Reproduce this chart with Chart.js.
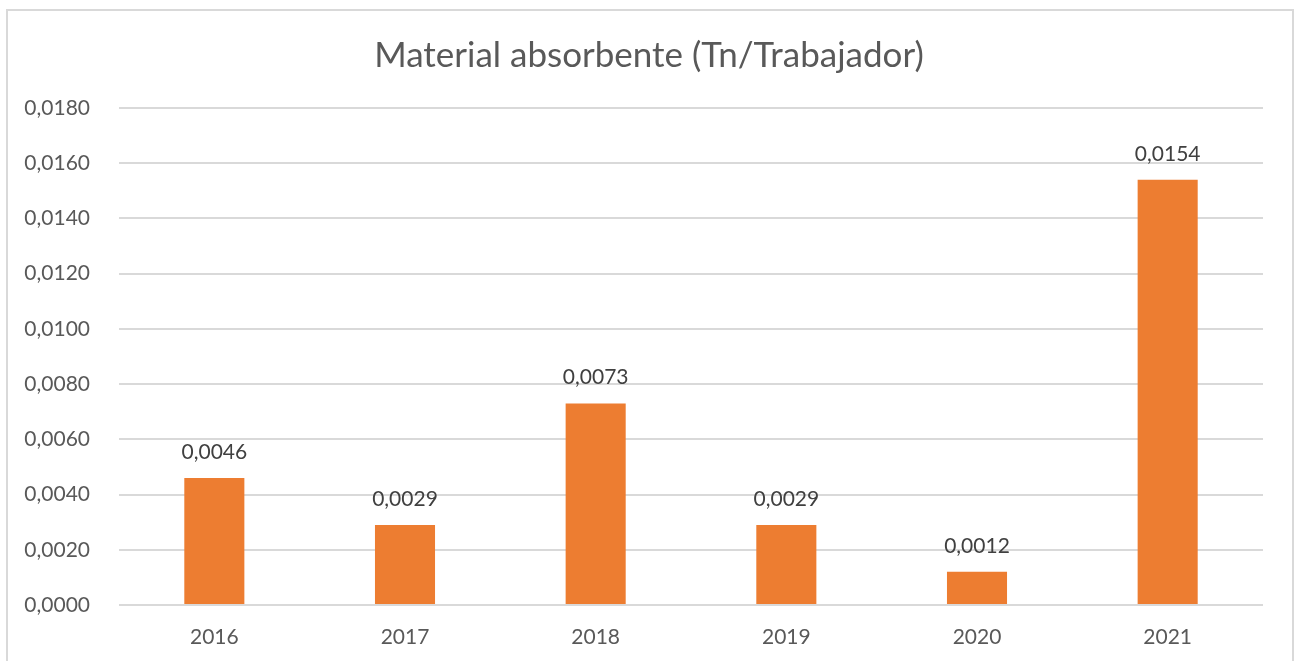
<!DOCTYPE html>
<html>
<head>
<meta charset="utf-8">
<script src="https://cdn.jsdelivr.net/npm/chart.js@4"></script>
<style>
  html, body { margin: 0; padding: 0; background: #fff; overflow: hidden; }
  #wrap { position: relative; width: 1298px; height: 661px; }
  #marco {
    position: absolute; left: 6px; top: 9px; width: 1284px; height: 700px;
    border: 2px solid #d9d9d9;
  }
  canvas { position: absolute; left: 0; top: 0; }
</style>
</head>
<body>
<div id="wrap">
  <div id="marco"></div>
  <canvas id="grafico" width="1298" height="661"></canvas>
</div>
<script>
const anios = ['2016', '2017', '2018', '2019', '2020', '2021'];
const valores = [0.0046, 0.0029, 0.0073, 0.0029, 0.0012, 0.0154];
const ejeMax = 0.018;
const ejePaso = 0.002;

const fuente = 'Lato, "Open Sans", sans-serif';
const fmt = v => v.toFixed(4).replace('.', ',');

// etiquetas con el valor encima de cada barra
const etiquetasValor = {
  id: 'etiquetasValor',
  afterDatasetsDraw(chart) {
    const ctx = chart.ctx;
    const meta = chart.getDatasetMeta(0);
    ctx.save();
    ctx.font = '21px ' + fuente;
    ctx.fillStyle = '#404040';
    ctx.textAlign = 'center';
    ctx.textBaseline = 'middle';
    meta.data.forEach((barra, i) => {
      ctx.fillText(fmt(valores[i]), barra.x, barra.y - 26);
    });
    ctx.restore();
  }
};

const ctx = document.getElementById('grafico').getContext('2d');
new Chart(ctx, {
  type: 'bar',
  data: {
    labels: anios,
    datasets: [{
      label: 'Material absorbente',
      data: valores,
      backgroundColor: '#ED7D31',
      barPercentage: 0.63,
      categoryPercentage: 0.5
    }]
  },
  options: {
    responsive: false,
    animation: false,
    layout: { padding: 0 },
    plugins: {
      legend: { display: false },
      tooltip: { enabled: false },
      title: {
        display: true,
        text: 'Material absorbente (Tn/Trabajador)',
        color: '#595959',
        font: { family: fuente, size: 35, weight: 'normal' },
        padding: { top: 35, bottom: 31 }
      }
    },
    scales: {
      x: {
        grid: { display: false, drawTicks: false },
        border: { display: false },
        ticks: {
          color: '#595959',
          padding: 20,
          font: { family: fuente, size: 21 }
        },
        afterFit: s => { s.height = 56; }
      },
      y: {
        min: 0,
        max: ejeMax,
        grid: { color: '#d9d9d9', lineWidth: 2, drawTicks: false },
        border: { display: false },
        ticks: {
          stepSize: ejePaso,
          color: '#595959',
          padding: 29,
          font: { family: fuente, size: 21 },
          callback: v => fmt(v)
        },
        afterFit: s => { s.width = 119; }
      },
      // eje vacío a la derecha: deja el margen sin descentrar el título
      margenDer: {
        position: 'right',
        grid: { display: false, drawTicks: false },
        border: { display: false },
        ticks: { display: false },
        afterFit: s => { s.width = 35; }
      }
    }
  },
  plugins: [etiquetasValor]
});
</script>
</body>
</html>
